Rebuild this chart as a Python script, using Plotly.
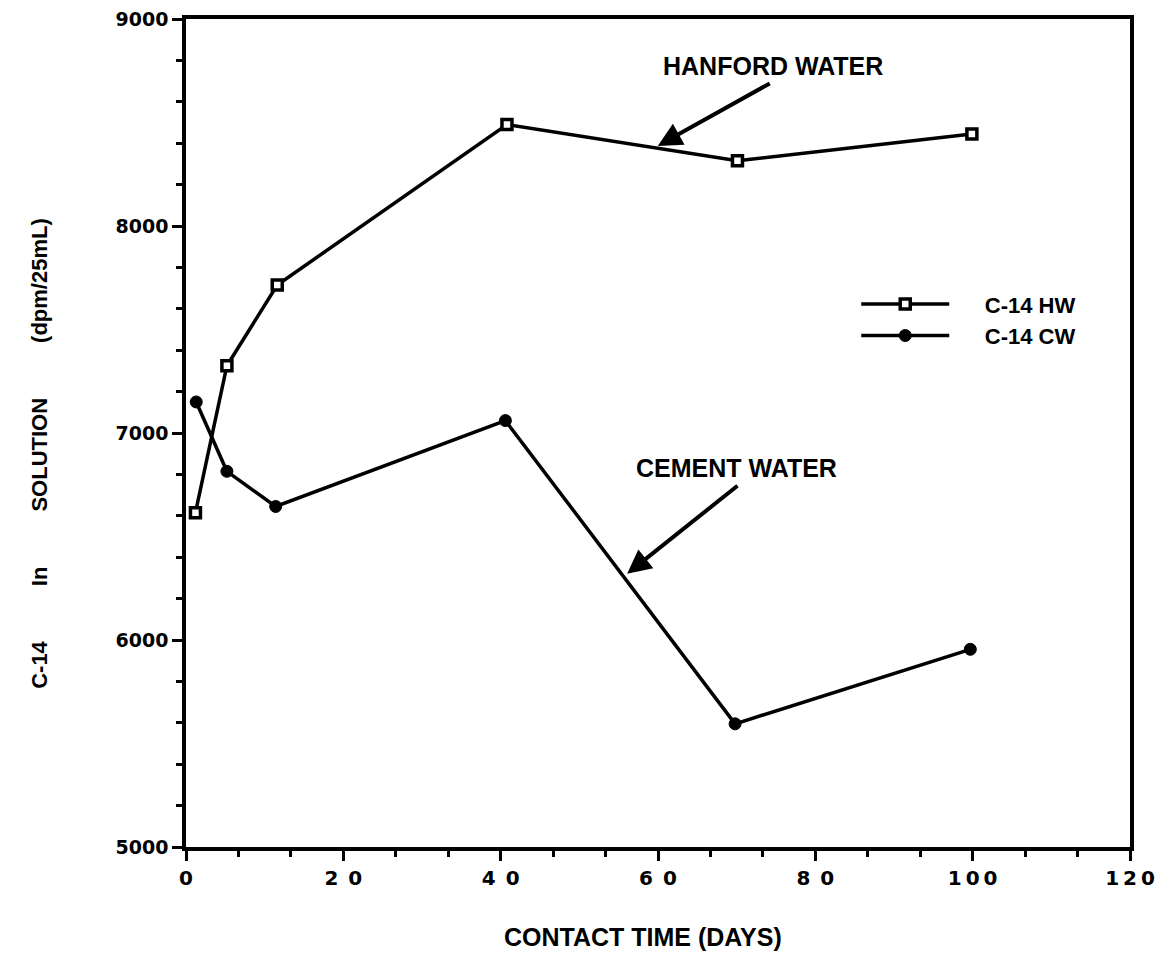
import plotly.graph_objects as go

# Data
hw_days = [1.2, 5.2, 11.6, 40.8, 70.1, 99.9]
hw_c14 = [6615, 7325, 7715, 8490, 8315, 8445]
cw_days = [1.3, 5.2, 11.4, 40.6, 69.8, 99.7]
cw_c14 = [7150, 6815, 6645, 7060, 5595, 5955]

x_tickvals = [0, 20, 40, 60, 80, 100, 120]
x_ticktext = ["0", "2\u20020", "4\u20020", "6\u20020", "8\u20020", "1\u20090\u20090", "1\u20092\u20090"]
y_tickvals = [5000, 6000, 7000, 8000, 9000]
y_ticktext = ["5000", "6000", "7000", "8000", "9000"]

LBL = "Liberation Sans"
NUM = "DejaVu Sans"
pad = "\u00a0" * 5

fig = go.Figure()
fig.add_trace(go.Scatter(
    x=hw_days, y=hw_c14, name=pad + "C-14 HW", mode="lines+markers",
    line=dict(color="black", width=3.5),
    marker=dict(symbol="square", size=10, color="white", line=dict(color="black", width=3.5)),
))
fig.add_trace(go.Scatter(
    x=cw_days, y=cw_c14, name=pad + "C-14 CW", mode="lines+markers",
    line=dict(color="black", width=3.5),
    marker=dict(symbol="circle", size=12, color="black", line=dict(color="black", width=1)),
))

fig.update_layout(
    width=1148, height=944,
    margin=dict(l=178, r=26, t=11, b=105, autoexpand=False),
    paper_bgcolor="white", plot_bgcolor="white",
    showlegend=True,
    legend=dict(x=0.71, y=0.681, xanchor="left", yanchor="top",
                font=dict(family=LBL, size=22, color="black", weight="bold"),
                bgcolor="rgba(0,0,0,0)", tracegroupgap=0, itemwidth=88),
    font=dict(family=LBL, color="black"),
)

fig.update_xaxes(
    range=[0, 120], tickvals=x_tickvals, ticktext=x_ticktext, automargin=False,
    ticklabeloverflow="allow",
    ticks="outside", ticklen=10, tickwidth=3, tickcolor="black",
    showline=True, linewidth=3.5, linecolor="black", mirror=True,
    showgrid=False, zeroline=False,
    tickfont=dict(family=NUM, size=20, color="black", weight="bold"),
    minor=dict(dtick=20 / 3, ticks="outside", ticklen=6, tickwidth=2.5, tickcolor="black", showgrid=False),
)
fig.update_yaxes(
    range=[5000, 9000], tickvals=y_tickvals, ticktext=y_ticktext, automargin=False,
    ticklabeloverflow="allow",
    ticks="outside", ticklen=10, tickwidth=3, tickcolor="black",
    showline=True, linewidth=3.5, linecolor="black", mirror=True,
    showgrid=False, zeroline=False,
    tickfont=dict(family=NUM, size=19, color="black", weight="bold"),
    minor=dict(dtick=200, ticks="outside", ticklen=6, tickwidth=2.5, tickcolor="black", showgrid=False),
)

sp = "\u00a0" * 9
fig.add_annotation(
    text="C-14" + sp + "In" + sp + "SOLUTION" + sp + "(dpm/25mL)",
    xref="paper", yref="paper", x=-0.1547, y=0.476, xanchor="center", yanchor="middle",
    textangle=-90, showarrow=False,
    font=dict(family=LBL, size=22, color="black", weight="bold"),
)
fig.add_annotation(
    text="CONTACT TIME (DAYS)", xref="paper", yref="paper", x=0.484, y=-0.1086,
    xanchor="center", yanchor="middle",
    showarrow=False, font=dict(family=LBL, size=25, color="black", weight="bold"),
)

# Callout labels and arrows
fig.add_annotation(text="HANFORD WATER", x=74.6, y=8773, showarrow=False,
                   xanchor="center", yanchor="middle",
                   font=dict(family=LBL, size=25, color="black", weight="bold"))
fig.add_annotation(text="", x=59.97, y=8387, ax=74.4, ay=8693, axref="x", ayref="y",
                   showarrow=True, arrowhead=2, arrowsize=1.2, arrowwidth=4, arrowcolor="black")
fig.add_annotation(text="CEMENT WATER", x=70.0, y=6833, showarrow=False,
                   xanchor="center", yanchor="middle",
                   font=dict(family=LBL, size=25, color="black", weight="bold"))
fig.add_annotation(text="", x=56.07, y=6320, ax=70.3, ay=6751, axref="x", ayref="y",
                   showarrow=True, arrowhead=2, arrowsize=1.2, arrowwidth=4, arrowcolor="black")

fig.write_html("out.html")
